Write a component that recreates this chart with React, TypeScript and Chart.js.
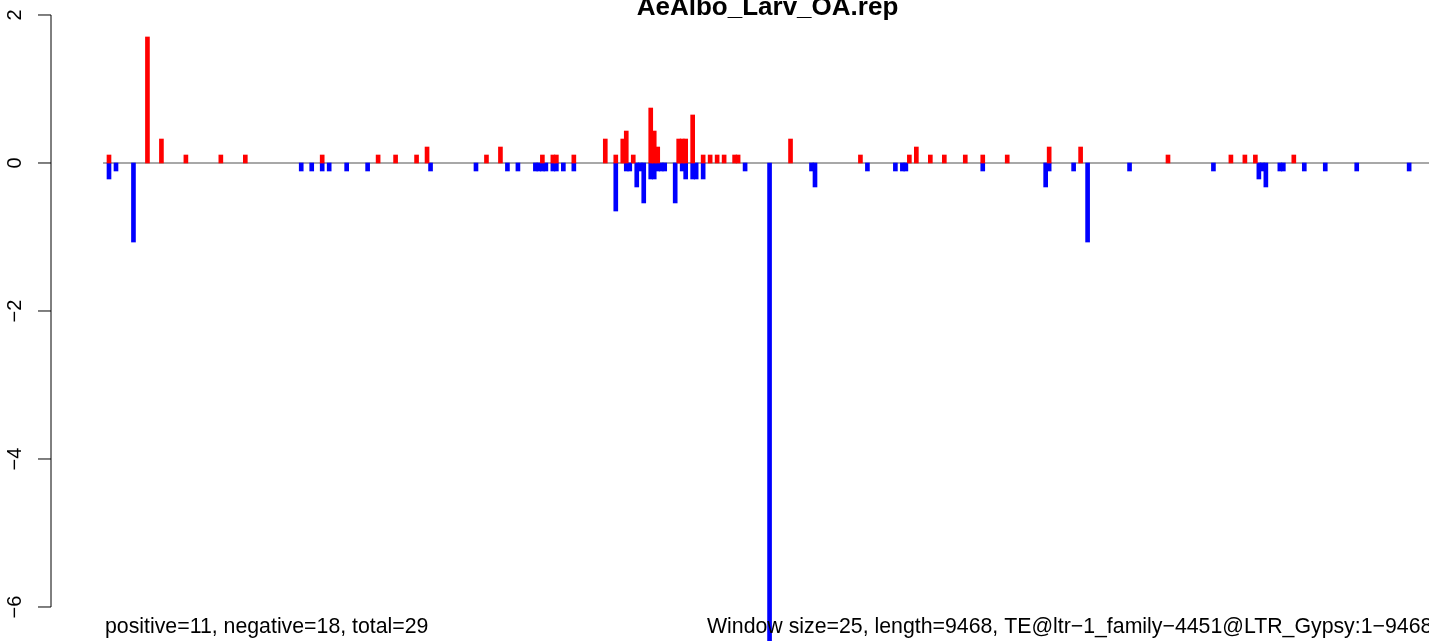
import React, { useEffect, useRef } from "react";
import { Chart, registerables } from "chart.js";

Chart.register(...registerables);

const TITLE = "AeAlbo_Larv_OA.rep";
const FOOTER_LEFT = "positive=11, negative=18, total=29";
const FOOTER_RIGHT = "Window size=25, length=9468, TE@ltr\u22121_family\u22124451@LTR_Gypsy:1\u22129468";
const Y_TICKS = [2, 0, -2, -4, -6];

// window index (25 bp windows) and value for positive-strand bars
const posWindows = [0, 11, 15, 22, 32, 39, 61, 77, 82, 88, 91, 108, 112, 124, 127, 128, 133, 142, 145, 147, 148, 150, 155, 156, 157, 163, 164, 165, 167, 170, 172, 174, 176, 179, 180, 195, 215, 229, 231, 235, 239, 245, 250, 257, 269, 278, 303, 321, 325, 328, 339];
const posValues = [0.108, 1.703, 0.324, 0.108, 0.108, 0.108, 0.108, 0.108, 0.108, 0.108, 0.216, 0.108, 0.216, 0.108, 0.108, 0.108, 0.108, 0.324, 0.108, 0.324, 0.432, 0.108, 0.743, 0.432, 0.216, 0.324, 0.324, 0.324, 0.649, 0.108, 0.108, 0.108, 0.108, 0.108, 0.108, 0.324, 0.108, 0.108, 0.216, 0.108, 0.108, 0.108, 0.108, 0.108, 0.216, 0.216, 0.108, 0.108, 0.108, 0.108, 0.108];

// window index and value for negative-strand bars
const negWindows = [0, 2, 7, 55, 58, 61, 63, 68, 74, 92, 105, 114, 117, 122, 123, 124, 125, 127, 128, 130, 133, 145, 148, 149, 151, 152, 153, 155, 156, 157, 158, 159, 162, 164, 165, 167, 168, 170, 182, 189, 201, 202, 217, 225, 227, 228, 250, 268, 269, 276, 280, 292, 316, 329, 330, 331, 335, 336, 342, 348, 357, 372];
const negValues = [-0.216, -0.108, -1.068, -0.108, -0.108, -0.108, -0.108, -0.108, -0.108, -0.108, -0.108, -0.108, -0.108, -0.108, -0.108, -0.108, -0.108, -0.108, -0.108, -0.108, -0.108, -0.649, -0.108, -0.108, -0.324, -0.108, -0.54, -0.216, -0.216, -0.108, -0.108, -0.108, -0.54, -0.108, -0.216, -0.216, -0.216, -0.216, -0.108, -6.6, -0.108, -0.324, -0.108, -0.108, -0.108, -0.108, -0.108, -0.324, -0.108, -0.108, -1.068, -0.108, -0.108, -0.216, -0.108, -0.324, -0.108, -0.108, -0.108, -0.108, -0.108, -0.108];

const FONT = '"Liberation Sans", Arial, Helvetica, sans-serif';

export default function App() {
  const ref = useRef<HTMLCanvasElement>(null);

  useEffect(() => {
    const canvas = ref.current;
    if (!canvas) return;

    const decor = {
      id: "decor",
      beforeDatasetsDraw(chart: any) {
        const { ctx, scales, chartArea } = chart;
        const x = scales.x;
        const y = scales.y;
        ctx.save();
        ctx.strokeStyle = "#a8a8a8";
        ctx.lineWidth = 2;
        const y0 = y.getPixelForValue(0);
        ctx.beginPath();
        ctx.moveTo(x.getPixelForValue(-1.7), y0);
        ctx.lineTo(chartArea.right, y0);
        ctx.stroke();
        ctx.restore();
      },
      afterDraw(chart: any) {
        const { ctx, scales, chartArea } = chart;
        const y = scales.y;
        const ax = chartArea.left;
        ctx.save();
        ctx.strokeStyle = "#000";
        ctx.lineWidth = 1;
        ctx.beginPath();
        ctx.moveTo(ax, y.getPixelForValue(Y_TICKS[0]));
        ctx.lineTo(ax, y.getPixelForValue(Y_TICKS[Y_TICKS.length - 1]));
        ctx.stroke();
        ctx.fillStyle = "#000";
        ctx.font = `20px ${FONT}`;
        ctx.textAlign = "center";
        ctx.textBaseline = "alphabetic";
        for (const t of Y_TICKS) {
          const py = y.getPixelForValue(t);
          ctx.beginPath();
          ctx.moveTo(ax - 13, py);
          ctx.lineTo(ax, py);
          ctx.stroke();
          ctx.save();
          ctx.translate(21, py);
          ctx.rotate(-Math.PI / 2);
          ctx.fillText(t < 0 ? "\u2212" + Math.abs(t) : String(t), 0, 0);
          ctx.restore();
        }
        // title
        ctx.font = `bold 26px ${FONT}`;
        ctx.textAlign = "center";
        ctx.fillText(TITLE, 767.5, 15);
        // footers
        ctx.font = `21.3px ${FONT}`;
        ctx.textAlign = "left";
        ctx.fillText(FOOTER_LEFT, 105, 633);
        ctx.fillText(FOOTER_RIGHT, 707, 633);
        ctx.restore();
      },
    };

    const chart = new Chart(canvas, {
      type: "bar",
      data: {
        datasets: [
          {
            data: posWindows.map((w, i) => ({ x: w, y: posValues[i] })),
            backgroundColor: "#ff0000",
            barThickness: 4,
            grouped: false,
          } as any,
          {
            data: negWindows.map((w, i) => ({ x: w, y: negValues[i] })),
            backgroundColor: "#0000ff",
            barThickness: 4,
            grouped: false,
          } as any,
        ],
      },
      options: {
        animation: false,
        responsive: false,
        devicePixelRatio: 1,
        layout: { padding: { left: 51, right: 0, top: 0, bottom: 0 } },
        plugins: {
          legend: { display: false },
          tooltip: { enabled: false },
          title: { display: false },
        },
        scales: {
          x: { type: "linear", min: -16.595, max: 377.68, offset: false, display: false },
          y: { type: "linear", min: -6.4595, max: 2.2027, display: false },
        },
      } as any,
      plugins: [decor],
    });
    return () => chart.destroy();
  }, []);

  return (
    <div style={{ position: "absolute", left: 0, top: 0, width: 1429, height: 641, background: "#fff", overflow: "hidden" }}>
      <canvas ref={ref} width={1429} height={641} style={{ display: "block", width: 1429, height: 641 }} />
    </div>
  );
}
